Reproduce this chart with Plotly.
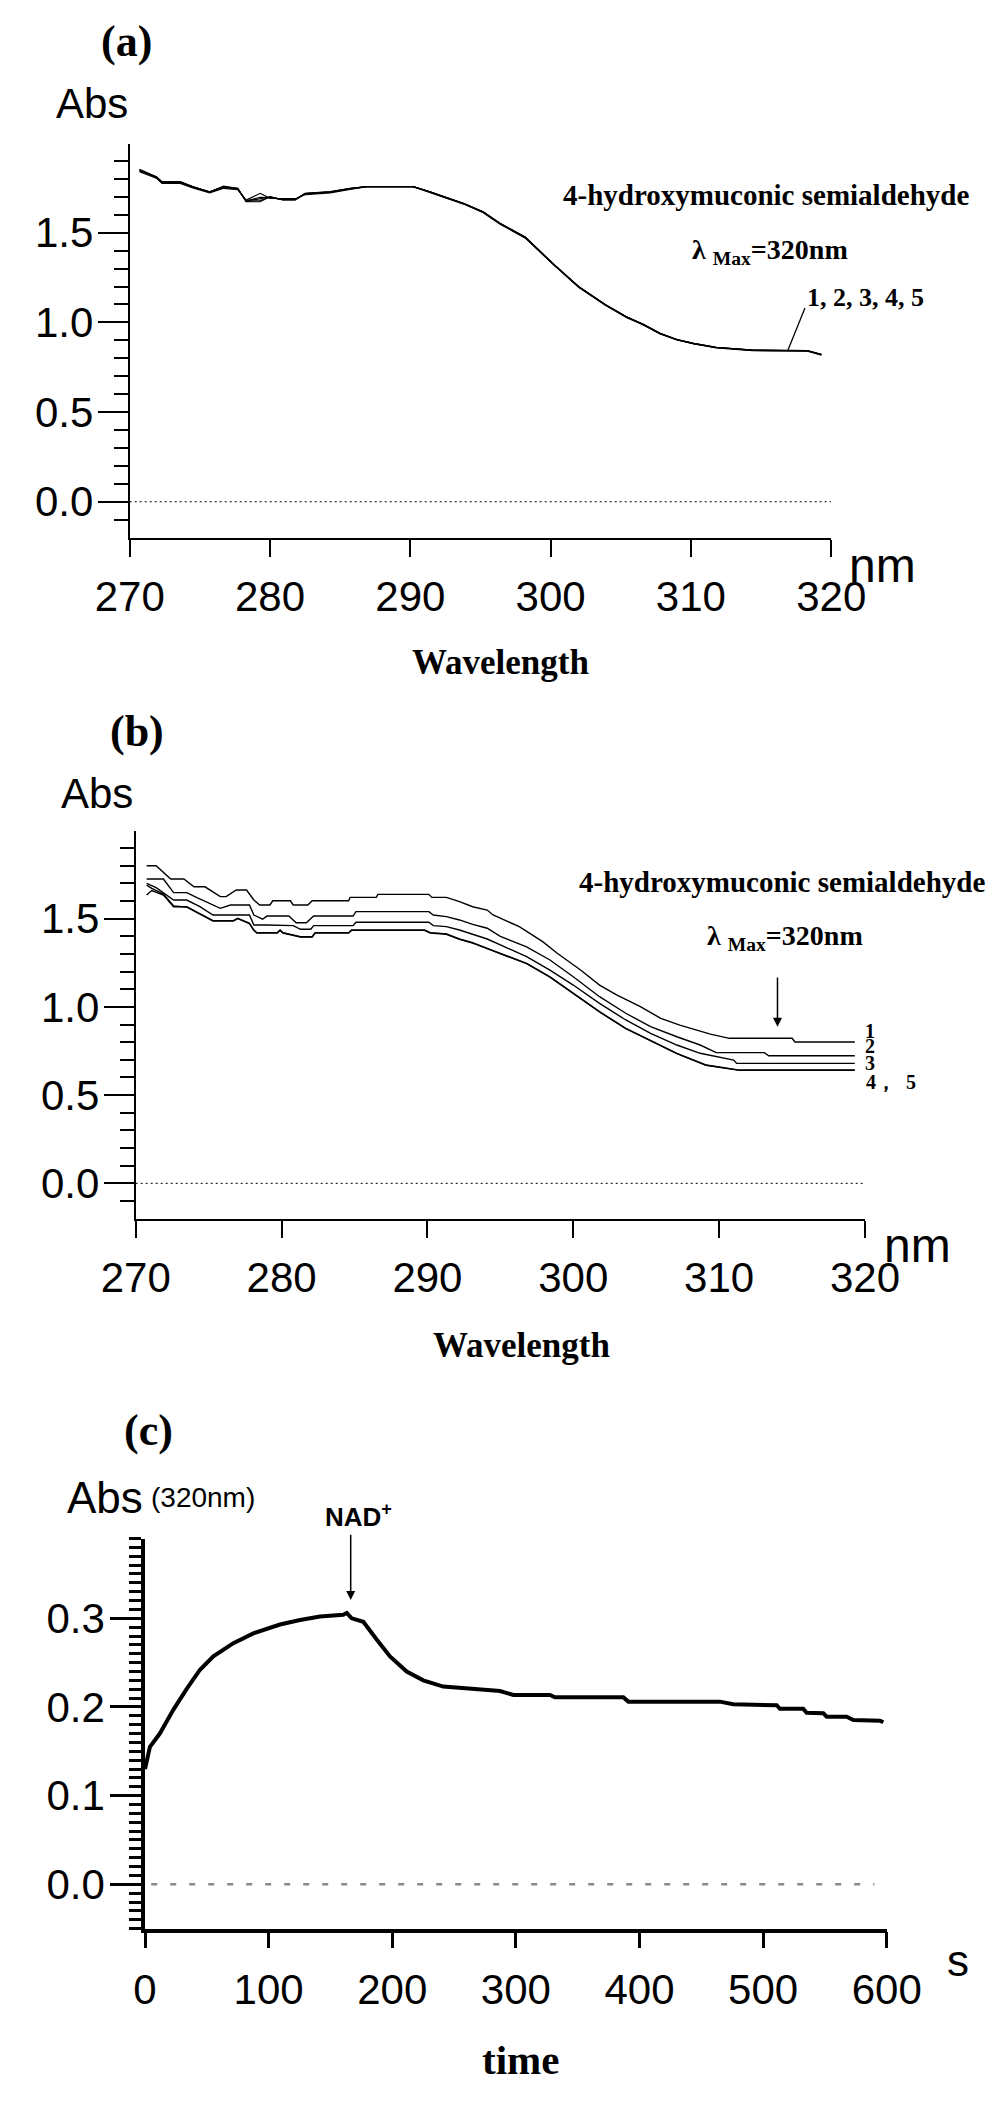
import plotly.graph_objects as go

W, H = 1004, 2113

# ---------------- data: panel (a) ----------------
WL_A = [270.7, 271.9, 272.3, 273.6, 274.5, 275.7, 276.7, 277.7, 278.3, 279.3, 280.0, 280.9,
        281.8, 282.5, 284.3, 285.7, 286.9, 290.2, 291.4, 292.4, 293.8, 295.2, 296.4, 298.2,
        300.2, 302.0, 303.9, 305.4, 306.6, 307.8, 309.0, 310.2, 311.8, 314.4, 318.3, 319.3]
ABS_A1 = [1.854, 1.813, 1.785, 1.785, 1.757, 1.729, 1.757, 1.748, 1.673, 1.673, 1.701, 1.683,
          1.683, 1.720, 1.729, 1.748, 1.757, 1.757, 1.729, 1.701, 1.664, 1.617, 1.553, 1.476,
          1.326, 1.200, 1.100, 1.032, 0.990, 0.939, 0.905, 0.883, 0.861, 0.846, 0.843, 0.822]
ABS_A2 = [1.840, 1.805, 1.775, 1.775, 1.750, 1.722, 1.748, 1.740, 1.682, 1.720, 1.692, 1.690,
          1.690, 1.712, 1.722, 1.742, 1.757, 1.757, 1.725, 1.697, 1.660, 1.612, 1.548, 1.470,
          1.322, 1.196, 1.096, 1.028, 0.986, 0.936, 0.902, 0.880, 0.858, 0.842, 0.840, 0.818]
ABS_A3 = [1.848, 1.810, 1.780, 1.780, 1.754, 1.726, 1.752, 1.744, 1.678, 1.698, 1.696, 1.686,
          1.686, 1.716, 1.726, 1.745, 1.757, 1.757, 1.727, 1.699, 1.662, 1.615, 1.550, 1.473,
          1.324, 1.198, 1.098, 1.030, 0.988, 0.938, 0.904, 0.882, 0.860, 0.844, 0.842, 0.820]
ABS_A4 = [1.850, 1.808, 1.782, 1.782, 1.755, 1.727, 1.760, 1.746, 1.675, 1.680, 1.699, 1.684,
          1.684, 1.718, 1.727, 1.746, 1.757, 1.757, 1.728, 1.700, 1.663, 1.616, 1.552, 1.475,
          1.325, 1.199, 1.099, 1.031, 0.989, 0.938, 0.904, 0.882, 0.860, 0.845, 0.843, 0.821]
ABS_A5 = [1.845, 1.812, 1.784, 1.784, 1.756, 1.728, 1.755, 1.747, 1.676, 1.690, 1.700, 1.685,
          1.685, 1.719, 1.728, 1.747, 1.757, 1.757, 1.729, 1.700, 1.663, 1.616, 1.551, 1.474,
          1.325, 1.199, 1.099, 1.031, 0.989, 0.939, 0.905, 0.883, 0.861, 0.845, 0.842, 0.821]
ZERO_X_AB = [270, 320]
ZERO_Y = [0, 0]
LEADER_A_X = [318.13, 316.92]
LEADER_A_Y = [1.080, 0.846]

# ---------------- data: panel (b) ----------------
WL_B1 = [270.75, 271.4, 272.4, 273.3, 274.0, 274.75, 275.8, 276.2, 276.9, 277.6, 278.1, 278.5,
         279.2, 279.4, 280.6, 280.8, 281.8, 282.1, 284.6, 284.7, 286.5, 286.6, 290.1, 290.3,
         291.3, 292.2, 293.1, 294.1, 294.5, 295.0, 296.3, 297.9, 298.9, 300.5, 301.8, 303.0,
         304.6, 306.0, 307.3, 309.4, 310.7, 315.0, 315.2, 319.3]
ABS_B1 = [1.800, 1.800, 1.725, 1.725, 1.681, 1.681, 1.625, 1.625, 1.663, 1.663, 1.606, 1.578,
          1.578, 1.602, 1.602, 1.578, 1.578, 1.602, 1.602, 1.621, 1.621, 1.638, 1.638, 1.621,
          1.621, 1.597, 1.568, 1.549, 1.521, 1.502, 1.455, 1.370, 1.304, 1.209, 1.124, 1.067,
          1.001, 0.935, 0.897, 0.846, 0.822, 0.822, 0.801, 0.801]
WL_B2 = [270.75, 271.9, 272.6, 273.5, 274.2, 275.8, 276.5, 277.8, 278.1, 278.7, 279.0, 280.5,
         281.0, 281.7, 282.2, 284.9, 285.1, 290.1, 290.4, 291.3, 292.2, 293.1, 294.1, 295.0,
         296.8, 298.4, 300.0, 301.8, 303.6, 305.3, 307.1, 308.7, 309.8, 313.1, 313.4, 319.3]
ABS_B2 = [1.725, 1.725, 1.648, 1.648, 1.619, 1.559, 1.578, 1.578, 1.521, 1.497, 1.515, 1.515,
          1.477, 1.477, 1.515, 1.515, 1.540, 1.540, 1.521, 1.512, 1.493, 1.468, 1.446, 1.400,
          1.341, 1.266, 1.171, 1.058, 0.964, 0.888, 0.831, 0.784, 0.741, 0.741, 0.723, 0.723]
WL_B3 = [270.75, 271.4, 272.6, 273.5, 274.4, 275.3, 277.8, 278.1, 279.0, 280.8, 281.3, 282.0,
         282.2, 284.9, 285.1, 290.1, 290.4, 291.3, 292.2, 293.1, 294.1, 295.0, 296.8, 298.4,
         300.0, 301.8, 303.6, 305.3, 307.1, 308.7, 311.0, 311.2, 319.3]
ABS_B3 = [1.701, 1.676, 1.606, 1.606, 1.568, 1.521, 1.521, 1.464, 1.464, 1.461, 1.440, 1.440,
          1.461, 1.461, 1.480, 1.480, 1.461, 1.455, 1.436, 1.412, 1.385, 1.352, 1.285, 1.209,
          1.124, 1.020, 0.926, 0.850, 0.784, 0.737, 0.699, 0.680, 0.680]
WL_B4 = [270.75, 271.1, 271.9, 272.6, 273.5, 274.4, 275.3, 276.7, 277.0, 277.8, 278.1, 278.3,
         279.7, 279.9, 280.1, 281.3, 282.1, 282.3, 284.6, 284.8, 289.8, 290.2, 291.3, 292.2,
         293.1, 294.1, 295.0, 296.8, 298.4, 300.0, 301.8, 303.6, 305.3, 307.1, 309.1, 311.4, 319.3]
ABS_B4 = [1.634, 1.660, 1.634, 1.568, 1.568, 1.527, 1.489, 1.489, 1.502, 1.474, 1.436, 1.421,
          1.421, 1.436, 1.421, 1.398, 1.398, 1.421, 1.421, 1.436, 1.436, 1.421, 1.414, 1.385,
          1.364, 1.332, 1.305, 1.247, 1.171, 1.077, 0.973, 0.879, 0.812, 0.737, 0.671, 0.642, 0.642]
ABS_B5 = [1.690, 1.672, 1.640, 1.572, 1.566, 1.525, 1.487, 1.487, 1.500, 1.472, 1.434, 1.419,
          1.419, 1.434, 1.419, 1.396, 1.396, 1.419, 1.419, 1.434, 1.434, 1.419, 1.412, 1.383,
          1.362, 1.330, 1.303, 1.245, 1.169, 1.075, 0.971, 0.877, 0.810, 0.735, 0.669, 0.640, 0.640]

# ---------------- data: panel (c) ----------------
T_C = [0, 4, 12, 23, 34, 44.5, 55.3, 71.5, 87.6, 109.2, 125.4, 141.6, 160.4, 163.2, 167.2,
       176.6, 187.4, 198.2, 211.7, 225.1, 241.3, 265.6, 287.2, 298, 327.6, 331.6, 386.9, 391,
       465, 475.9, 511, 513.6, 532.5, 535.2, 548.7, 551.4, 567.6, 573, 594.6, 597.3]
ABS_C = [0.130, 0.155, 0.170, 0.197, 0.221, 0.242, 0.257, 0.272, 0.283, 0.293, 0.298, 0.302,
         0.304, 0.306, 0.300, 0.296, 0.276, 0.257, 0.240, 0.230, 0.223, 0.220, 0.218, 0.2135,
         0.2135, 0.211, 0.211, 0.206, 0.206, 0.203, 0.202, 0.198, 0.198, 0.1935, 0.193, 0.189,
         0.189, 0.1853, 0.1845, 0.1827]
ZERO_X_C = [5, 590]

YT_AB = [0.0, 0.5, 1.0, 1.5]
YT_AB_TEXT = ["0.0", "0.5", "1.0", "1.5"]
YMINOR_AB = [-0.1, 0.1, 0.2, 0.3, 0.4, 0.6, 0.7, 0.8, 0.9, 1.1, 1.2, 1.3, 1.4, 1.6, 1.7, 1.8, 1.9]
XT_AB = [270, 280, 290, 300, 310, 320]
YT_C = [0.0, 0.1, 0.2, 0.3]
YT_C_TEXT = ["0.0", "0.1", "0.2", "0.3"]
XT_C = [0, 100, 200, 300, 400, 500, 600]

# ---------------- helpers ----------------
NARROW = "Liberation Sans Narrow, Arial Narrow, Liberation Sans, Arial, sans-serif"
SANS = "Liberation Sans, Arial, sans-serif"
SERIF = "Liberation Serif, Times New Roman, serif"


def dom_x(x0, x1):
    return [x0 / W, x1 / W]


def dom_y(top, bottom):
    return [1 - bottom / H, 1 - top / H]


def note(text, x, y, size, family, xanchor="center", yanchor="middle"):
    return dict(text=text, x=x / W, y=1 - y / H, xref="paper", yref="paper",
                showarrow=False, xanchor=xanchor, yanchor=yanchor,
                font=dict(size=size, family=family, color="black"))


fig = go.Figure()

# panel (a)
for ys in [ABS_A1, ABS_A2, ABS_A3, ABS_A4, ABS_A5]:
    fig.add_trace(go.Scatter(x=WL_A, y=ys, mode="lines", line=dict(color="black", width=1.2),
                             xaxis="x", yaxis="y", showlegend=False))
fig.add_trace(go.Scatter(x=ZERO_X_AB, y=ZERO_Y, mode="lines",
                         line=dict(color="black", width=1, dash="2px,3px"),
                         xaxis="x", yaxis="y", showlegend=False))
fig.add_trace(go.Scatter(x=LEADER_A_X, y=LEADER_A_Y, mode="lines",
                         line=dict(color="black", width=1.3), xaxis="x", yaxis="y",
                         showlegend=False))

# panel (b)
for xs, ys in [(WL_B1, ABS_B1), (WL_B2, ABS_B2), (WL_B3, ABS_B3), (WL_B4, ABS_B4), (WL_B4, ABS_B5)]:
    fig.add_trace(go.Scatter(x=xs, y=ys, mode="lines", line=dict(color="black", width=1.4),
                             xaxis="x2", yaxis="y2", showlegend=False))
fig.add_trace(go.Scatter(x=ZERO_X_AB, y=ZERO_Y, mode="lines",
                         line=dict(color="black", width=1, dash="2px,3px"),
                         xaxis="x2", yaxis="y2", showlegend=False))

# panel (c)
fig.add_trace(go.Scatter(x=T_C, y=ABS_C, mode="lines", line=dict(color="black", width=4),
                         xaxis="x3", yaxis="y3", showlegend=False))
fig.add_trace(go.Scatter(x=ZERO_X_C, y=ZERO_Y, mode="lines",
                         line=dict(color="#8a8a8a", width=2.5, dash="6px,13px"),
                         xaxis="x3", yaxis="y3", showlegend=False))

tickfont = dict(family=NARROW, size=42, color="black")

common_x = dict(showgrid=False, zeroline=False, showline=True, linecolor="black",
                ticks="outside", tickcolor="black", tickfont=tickfont, automargin=False)
common_y = dict(showgrid=False, zeroline=False, showline=True, linecolor="black",
                ticks="outside", tickcolor="black", tickfont=tickfont, automargin=False)

fig.update_layout(
    width=W, height=H, autosize=False,
    margin=dict(l=0, r=0, t=0, b=0, pad=0, autoexpand=False),
    paper_bgcolor="white", plot_bgcolor="white", showlegend=False,
    xaxis=dict(common_x, domain=dom_x(129.7, 831.2), range=[270, 320], tickvals=XT_AB,
               linewidth=2, tickwidth=2, ticklen=17, anchor="y", ticklabelstandoff=4),
    yaxis=dict(common_y, domain=dom_y(144.0, 537.6), range=[-0.2, 1.995], tickvals=YT_AB,
               ticktext=YT_AB_TEXT, linewidth=2, tickwidth=2, ticklen=30, anchor="x",
               ticklabelstandoff=-4,
               minor=dict(tickvals=YMINOR_AB, ticklen=14, tickwidth=2, ticks="outside",
                          tickcolor="black", showgrid=False)),
    xaxis2=dict(common_x, domain=dom_x(135.7, 865.0), range=[270, 320], tickvals=XT_AB,
                linewidth=2, tickwidth=2, ticklen=17, anchor="y2", ticklabelstandoff=4),
    yaxis2=dict(common_y, domain=dom_y(831.4, 1218.6), range=[-0.2, 1.995], tickvals=YT_AB,
                ticktext=YT_AB_TEXT, linewidth=2, tickwidth=2, ticklen=30, anchor="x2",
                ticklabelstandoff=-4,
                minor=dict(tickvals=YMINOR_AB, ticklen=14, tickwidth=2, ticks="outside",
                           tickcolor="black", showgrid=False)),
    xaxis3=dict(common_x, domain=dom_x(145.0, 886.7), range=[0, 600], tickvals=XT_C,
                linewidth=3.5, tickwidth=3, ticklen=16, anchor="y3", ticklabelstandoff=5),
    yaxis3=dict(common_y, domain=dom_y(1538.5, 1928.6), range=[-0.05, 0.39], tickvals=YT_C,
                ticktext=YT_C_TEXT, linewidth=3.5, tickwidth=3, ticklen=31, anchor="x3",
                ticklabelstandoff=-3,
                minor=dict(dtick=0.01, tick0=0, ticklen=12, tickwidth=3, ticks="outside",
                           tickcolor="black", showgrid=False)),
)

anns = [
    # panel (a)
    note("<b>(a)</b>", 126, 42, 44, SERIF),
    note("Abs", 91.5, 104, 42, SANS),
    note("nm", 882.5, 565, 48, NARROW),
    note("<b>Wavelength</b>", 500, 663, 35, SERIF),
    note("<b>4-hydroxymuconic semialdehyde</b>", 765.5, 195, 29, SERIF),
    note("<b>λ <sub>Max</sub>=320nm</b>", 769.5, 252, 28, SERIF),
    note("<b>1, 2, 3, 4, 5</b>", 865, 297, 26, SERIF),
    # panel (b)
    note("<b>(b)</b>", 136.5, 731, 44, SERIF),
    note("Abs", 96.5, 793, 42, SANS),
    note("nm", 917.5, 1245, 48, NARROW),
    note("<b>Wavelength</b>", 521, 1345, 35, SERIF),
    note("<b>4-hydroxymuconic semialdehyde</b>", 781.5, 881.7, 29, SERIF),
    note("<b>λ <sub>Max</sub>=320nm</b>", 785, 937, 28, SERIF),
    note("<b>1</b>", 870, 1031, 20, SERIF),
    note("<b>2</b>", 870, 1046, 20, SERIF),
    note("<b>3</b>", 870, 1063, 20, SERIF),
    note("<b>4，\u00a0\u00a05</b>", 864, 1082, 20, SERIF, xanchor="left"),
    # panel (c)
    note("<b>(c)</b>", 148, 1430, 44, SERIF),
    note("Abs", 105, 1497, 44, SANS),
    note("(320nm)", 202.5, 1497, 28, SANS),
    note("<b>NAD<sup>+</sup></b>", 358.5, 1515, 26, SANS),
    note("s", 958, 1960, 44, NARROW),
    note("<b>time</b>", 520, 2060, 41, SERIF),
    # arrows
    dict(x=314.0, y=0.888, xref="x2", yref="y2", ax=314.0, ay=1.175, axref="x2", ayref="y2",
         showarrow=True, arrowhead=2, arrowsize=1.2, arrowwidth=1.5, arrowcolor="black", text=""),
    dict(x=166.4, y=0.3206, xref="x3", yref="y3", ax=166.4, ay=0.3958, axref="x3", ayref="y3",
         showarrow=True, arrowhead=2, arrowsize=1.2, arrowwidth=1.5, arrowcolor="black", text=""),
]
fig.update_layout(annotations=anns)

fig.write_html("out.html", config={"displayModeBar": False},
               post_script="document.body.style.margin='0';")
